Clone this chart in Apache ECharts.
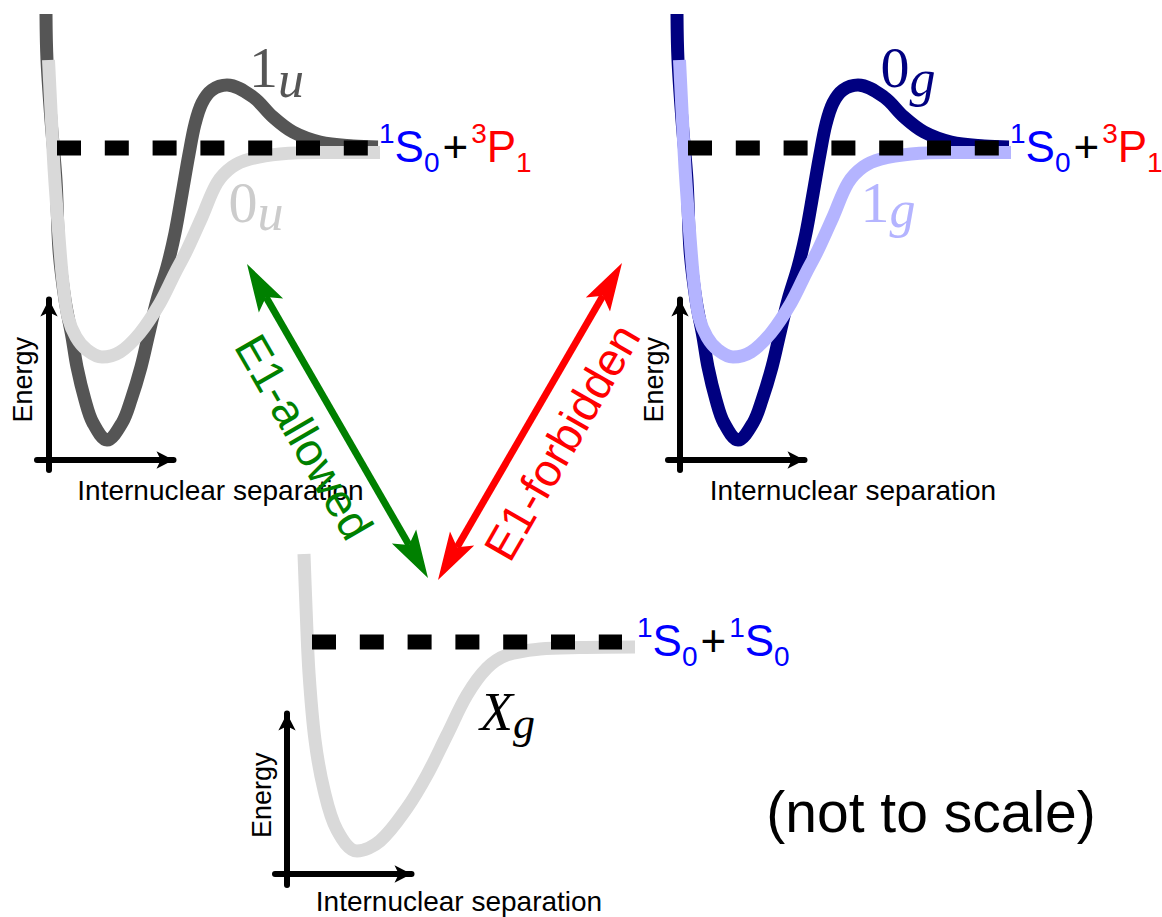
<!DOCTYPE html>
<html>
<head>
<meta charset="utf-8">
<script src="https://cdn.jsdelivr.net/npm/echarts@6/dist/echarts.min.js"></script>
<style>
html,body{margin:0;padding:0;background:#ffffff;}
#chart{width:1162px;height:917px;}
</style>
</head>
<body>
<div id="chart"></div>
<script>
// ---------------- data (arbitrary units: r = separation, E = energy, dissociation limit at E = 0) -------------
// upper-left pair (1u deep well with barrier, 0u shallow well)
const curve1u = [[0.6,13.4],[0.7,8.8],[1.1,2.8],[1.6,-3.2],[1.9,-10.2],[2.5,-15.2],[3.2,-18.9],[3.7,-21.9],[4.5,-25.2],[5.3,-27.5],[6.7,-29.2],[8.2,-27.5],[9.1,-25.2],[10.1,-21.9],[10.9,-18.5],[11.7,-15.2],[12.7,-11.9],[13.5,-8.5],[14.2,-4.6],[14.9,-0.6],[15.5,2.4],[16.2,4.5],[17.2,5.8],[18.7,6.3],[21.3,5.1],[23.3,3.1],[25.3,1.6],[28.0,0.6],[31.3,0.2],[33.8,0.1]];
const curve0u = [[0.85,8.8],[1.3,-0.2],[1.5,-3.5],[2.0,-10.2],[2.3,-13.5],[2.8,-16.9],[3.6,-18.9],[4.7,-20.2],[6.2,-20.9],[8.0,-20.4],[10.0,-18.5],[12.0,-15.5],[13.5,-12.5],[14.7,-10.2],[16.2,-6.9],[17.7,-3.5],[19.2,-1.9],[21.0,-1.1],[24.0,-0.6],[28.0,-0.45],[34.0,-0.45]];
// upper-right pair (0g deep well with barrier, 1g shallow well)
const curve0g = [[0.6,13.4],[0.7,8.8],[1.1,2.8],[1.6,-3.2],[1.9,-10.2],[2.5,-15.2],[3.2,-18.9],[3.7,-21.9],[4.5,-25.2],[5.3,-27.5],[6.7,-29.2],[8.2,-27.5],[9.1,-25.2],[10.1,-21.9],[10.9,-18.5],[11.7,-15.2],[12.7,-11.9],[13.5,-8.5],[14.2,-4.6],[14.9,-0.6],[15.5,2.4],[16.2,4.5],[17.2,5.8],[18.7,6.3],[21.3,5.1],[23.3,3.1],[25.3,1.6],[28.0,0.6],[31.3,0.2],[33.8,0.1]];
const curve1g = [[0.85,8.8],[1.3,-0.2],[1.5,-3.5],[2.0,-10.2],[2.3,-13.5],[2.8,-16.9],[3.6,-18.9],[4.7,-20.2],[6.2,-20.9],[8.0,-20.4],[10.0,-18.5],[12.0,-15.5],[13.5,-12.5],[14.7,-10.2],[16.2,-6.9],[17.7,-3.5],[19.2,-1.9],[21.0,-1.1],[24.0,-0.6],[28.0,-0.45],[34.0,-0.45]];
// ground state
const curveXg = [[0.4,8.8],[0.6,3.5],[0.9,-3.1],[1.5,-9.8],[2.4,-14.8],[3.7,-18.8],[5.7,-20.9],[8.0,-19.9],[10.7,-16.6],[12.7,-13.3],[14.7,-9.3],[16.7,-5.3],[18.7,-2.6],[20.7,-1.3],[24.0,-0.7],[28.0,-0.55],[33.5,-0.5]];
// dissociation limits (dashed), r-span of the dashed level, E = 0
const limitUpperSpan = [1.7, 32.9];
const limitLowerSpan = [1.2, 32.2];
const limitLevel = [0, 0];
// text
const stateNames = ['1u', '0u', '0g', '1g', 'Xg'];
const transitionNames = ['E1-allowed', 'E1-forbidden'];
const axisNames = ['Energy', 'Internuclear separation'];
const noteText = '(not to scale)';

// ---------------- styling / layout ----------------
const SANS = "'Liberation Sans', Arial, Helvetica, sans-serif";
const SERIF = "'Liberation Serif', 'Times New Roman', serif";
const C = {dark:'#555555', light:'#d9d9d9', navy:'#000080', lav:'#b4b4ff', green:'#008000', red:'#ff0000', blue:'#0000ff'};

const chart = echarts.init(document.getElementById('chart'), null, {renderer:'svg', width:1162, height:917});

// panel grids (curves) and frame grids (axis arrows)
const grids = [
  {left:40,  top:8,   width:340, height:460, outerBoundsMode:'none'},
  {left:671, top:8,   width:340, height:460, outerBoundsMode:'none'},
  {left:300, top:552, width:340, height:330, outerBoundsMode:'none'},
  {left:37,  top:299.5, width:136.5, height:170.5, outerBoundsMode:'none'},
  {left:668, top:299.5, width:136.5, height:170.5, outerBoundsMode:'none'},
  {left:275, top:713.5, width:136.5, height:171.5, outerBoundsMode:'none'}
];

const hiddenX = g => ({gridIndex:g, type:'value', min:0, max:34, show:false});
const hiddenY = (g, mn, mx) => ({gridIndex:g, type:'value', min:mn, max:mx, show:false});
const arrowLine = {show:true, onZero:true, symbol:['none','arrow'], symbolSize:[13,17], lineStyle:{color:'#000', width:6}};
const frameX = (g, pad, gap) => ({gridIndex:g, type:'value', min:-12, max:124.5, axisLine:arrowLine,
  axisTick:{show:false}, axisLabel:{show:false}, splitLine:{show:false},
  name:axisNames[1], nameLocation:'middle', nameGap:gap,
  nameTextStyle:{fontFamily:SANS, fontSize:28, lineHeight:27, color:'#000', padding:[0,0,0,pad]}});
const frameY = (g, mn, mx, gap, pad) => ({gridIndex:g, type:'value', min:mn, max:mx, axisLine:arrowLine,
  axisTick:{show:false}, axisLabel:{show:false}, splitLine:{show:false},
  name:axisNames[0], nameLocation:'middle', nameRotate:90, nameGap:gap,
  nameTextStyle:{fontFamily:SANS, fontSize:27, lineHeight:27, color:'#000', padding:[0,0,0,pad]}});

const curve = (data, g, color, z) => ({type:'line', data, xAxisIndex:g, yAxisIndex:g, symbol:'none', showSymbol:false,
  smooth:0.35, clip:false, silent:true, animation:false, z,
  lineStyle:{color, width:13, cap:'butt', join:'round'}});
const limit = (span, g) => ({type:'line', data:span.map((r,i)=>[r, limitLevel[i]]), xAxisIndex:g, yAxisIndex:g,
  symbol:'none', showSymbol:false, clip:false, silent:true, animation:false, z:5,
  lineStyle:{color:'#000', width:15, type:[24,23.8], cap:'butt'}});

// ---------------- annotation graphics ----------------
function limitLabel(x, y, a, b) {
  const mk = (fill, fs, pad) => ({fill, fontFamily:SANS, fontSize:fs, lineHeight:fs, padding:pad});
  return {type:'text', x, y, silent:true, z:10, style:{
    text:'{a1|'+a[0]+'}{a2|'+a[1]+'}{a3|'+a[2]+'}{pl|+}{b1|'+b[0]+'}{b2|'+b[1]+'}{b3|'+b[2]+'}',
    align:'left', verticalAlign:'middle', fontFamily:SANS, fontSize:44,
    rich:{
      a1:mk(a[3],28,[0,0,27,0]), a2:mk(a[3],44,[0,0,0,0]), a3:mk(a[3],28,[31,0,0,0]),
      pl:mk('#000',44,[0,3,0,3]),
      b1:mk(b[3],28,[0,0,27,0]), b2:mk(b[3],44,[0,0,0,0]), b3:mk(b[3],28,[31,0,0,0])
    }}};
}
function termLabel(x, y, name, color, fsMain, fsSub, subPad, mainItalic) {
  return {type:'text', x, y, silent:true, z:10, style:{
    text:'{n|'+name[0]+'}{s|'+name.slice(1)+'}', align:'left', verticalAlign:'middle',
    fontFamily:SERIF, fontSize:fsMain,
    rich:{
      n:{fill:color, fontFamily:SERIF, fontStyle:mainItalic?'italic':'normal', fontSize:fsMain, lineHeight:fsMain},
      s:{fill:color, fontFamily:SERIF, fontStyle:'italic', fontSize:fsSub, lineHeight:fsSub, padding:[subPad,0,0,0]}
    }}};
}
function doubleArrow(p1, p2, color) {
  const dx = p2[0]-p1[0], dy = p2[1]-p1[1], len = Math.hypot(dx, dy);
  const ux = dx/len, uy = dy/len, nx = -uy, ny = ux;
  const L = 48, W = 14, N = 38, SW = 7;
  const head = (tip, s) => {
    const bx = tip[0] - s*ux*L, by = tip[1] - s*uy*L;
    return {type:'polygon', silent:true, z:8, shape:{points:[tip, [bx+nx*W, by+ny*W], [tip[0]-s*ux*N, tip[1]-s*uy*N], [bx-nx*W, by-ny*W]]}, style:{fill:color}};
  };
  return [
    {type:'line', silent:true, z:8, shape:{x1:p1[0]+ux*N, y1:p1[1]+uy*N, x2:p2[0]-ux*N, y2:p2[1]-uy*N}, style:{stroke:color, lineWidth:SW}},
    head(p2, 1), head(p1, -1)
  ];
}

const graphics = [].concat(
  doubleArrow([247,264], [428,578], C.green),
  doubleArrow([622,263], [438,580], C.red),
  [
    {type:'text', x:304, y:437, rotation:-Math.PI/3, silent:true, z:10, style:{text:transitionNames[0], fill:C.green, fontFamily:SANS, fontSize:46, align:'center', verticalAlign:'middle'}},
    {type:'text', x:562, y:442, rotation:Math.PI/3, silent:true, z:10, style:{text:transitionNames[1], fill:C.red, fontFamily:SANS, fontSize:46, align:'center', verticalAlign:'middle'}},
    limitLabel(379, 146.8, ['1','S','0',C.blue], ['3','P','1',C.red]),
    limitLabel(1010, 146.8, ['1','S','0',C.blue], ['3','P','1',C.red]),
    limitLabel(637, 640.8, ['1','S','0',C.blue], ['1','S','0',C.blue]),
    termLabel(249, 67.4, stateNames[0], C.dark, 58, 52, 24, false),
    termLabel(228.6, 202.4, stateNames[1], '#cccccc', 58, 52, 20, false),
    termLabel(880.6, 67.4, stateNames[2], C.navy, 58, 52, 22, false),
    termLabel(860.6, 202.4, stateNames[3], C.lav, 58, 52, 14, false),
    termLabel(480, 711.8, stateNames[4], '#000', 54, 44, 23, true),
    {type:'text', x:931, y:812, silent:true, z:10, style:{text:noteText, fill:'#000', fontFamily:SANS, fontSize:57, align:'center', verticalAlign:'middle'}}
  ]
);

chart.setOption({
  animation:false,
  backgroundColor:'#ffffff',
  textStyle:{fontFamily:SANS},
  grid:grids,
  xAxis:[hiddenX(0), hiddenX(1), hiddenX(2), frameX(3, 230.5, 6.5), frameX(4, 233.5, 6.5), frameX(5, 231.5, 3)],
  yAxis:[hiddenY(0,-32,14), hiddenY(1,-32,14), hiddenY(2,-24,9), frameY(3,-10,160.5,0.5,10), frameY(4,-10,160.5,0.5,10), frameY(5,-11,160.5,0,8)],
  series:[
    curve(curve1u, 0, C.dark, 2), curve(curve0u, 0, C.light, 3), limit(limitUpperSpan, 0),
    curve(curve0g, 1, C.navy, 2), curve(curve1g, 1, C.lav, 3), limit(limitUpperSpan, 1),
    curve(curveXg, 2, C.light, 3), limit(limitLowerSpan, 2)
  ],
  graphic:{elements:graphics}
});
</script>
</body>
</html>
